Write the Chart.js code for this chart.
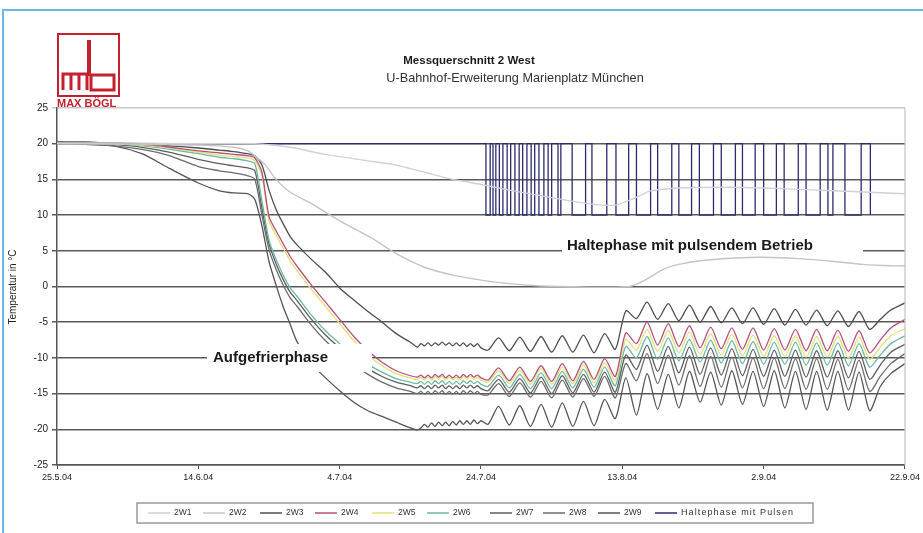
<!DOCTYPE html>
<html><head><meta charset="utf-8">
<script src="https://cdn.jsdelivr.net/npm/chart.js@4/dist/chart.umd.min.js"></script>
<style>html,body{margin:0;padding:0;background:#fff;}#wrap{width:923px;height:533px;position:relative;}</style>
</head><body><div id="wrap"><canvas id="c" width="923" height="533"></canvas></div>
<script>
// ---------- texts ----------
const chartTitle = 'Messquerschnitt 2 West';
const chartSubtitle = 'U-Bahnhof-Erweiterung Marienplatz München';
const yAxisTitle = 'Temperatur in °C';
const labelFreeze = 'Aufgefrierphase';
const labelHold = 'Haltephase mit pulsendem Betrieb';
const logoText = 'MAX BÖGL';
const seriesNames = ['2W1','2W2','2W3','2W4','2W5','2W6','2W7','2W8','2W9','Haltephase mit Pulsen'];

// ---------- axes ----------
const xTickDays = [0, 20, 40, 60, 80, 100, 120];
const xTickLabels = ['25.5.04','14.6.04','4.7.04','24.7.04','13.8.04','2.9.04','22.9.04'];
const yMin = -25, yMax = 25, yStep = 5;

// ---------- measured series (days since 25.5.04) ----------
const days = [0,4,8,12,16,20,23,25,27,28,29,30,31,32,33,34,36,38,40,42,44,46,48,50,
  51,51.5,52,52.5,53,53.5,54,54.5,55,55.5,56,56.5,57,57.5,58,58.5,59,59.5,60,
  61,62.5,64,65.5,67,68.5,70,71.5,73,74.5,76,77.5,79,80.5,82,83.5,85,86.5,88,89.5,91,92.5,94,95.5,97,98.5,100,101.5,103,104.5,106,107.5,109,110.5,112,113.5,115,116.5,118,120];

const w3 = [20.2,20.2,20.1,20.0,19.7,19.4,19.1,18.9,18.6,18.3,17.0,13.5,10.8,8.8,7.0,5.8,3.8,2.0,-0.2,-1.9,-3.5,-5.0,-6.6,-7.8,
  -8.5,-8.0,-8.3,-7.9,-8.3,-7.9,-8.2,-7.8,-8.2,-7.9,-8.3,-7.9,-8.3,-7.9,-8.4,-8.0,-8.4,-8.0,-8.6,
  -8.9,-7.2,-9.0,-7.1,-9.1,-7.0,-9.2,-6.9,-9.2,-6.8,-9.3,-6.6,-8.8,-3.4,-4.5,-2.2,-4.6,-2.4,-4.8,-2.6,-5.0,-2.8,-5.1,-3.0,-5.2,-3.0,-5.3,-3.1,-5.4,-3.2,-5.4,-3.3,-5.5,-3.4,-5.6,-3.5,-6.0,-4.6,-3.3,-2.3];
const w4 = [20.2,20.2,20.1,19.9,19.5,19.0,18.7,18.5,18.3,18.0,16.0,9.8,7.8,6.0,4.2,2.8,0.2,-2.2,-4.6,-7.0,-9.0,-10.6,-11.8,-12.5,
  -12.7,-12.4,-12.8,-12.4,-12.8,-12.3,-12.7,-12.3,-12.8,-12.4,-12.8,-12.4,-12.8,-12.3,-12.7,-12.3,-12.7,-12.4,-12.8,
  -13.1,-11.4,-13.2,-11.3,-13.3,-11.1,-13.3,-10.8,-13.2,-10.5,-13.0,-10.1,-12.6,-6.5,-8.0,-5.0,-8.2,-5.2,-8.4,-5.5,-8.6,-5.7,-8.7,-5.8,-8.8,-5.8,-8.9,-5.9,-8.9,-6.0,-9.0,-6.0,-9.0,-6.1,-9.1,-6.2,-9.3,-7.5,-5.8,-4.6];
const w5 = [20.2,20.2,20.0,19.8,19.4,18.8,18.4,18.2,18.0,17.6,15.5,9.2,7.2,5.4,3.6,2.2,-0.4,-2.8,-5.2,-7.6,-9.6,-11.1,-12.2,-12.8,
  -13.0,-12.7,-13.1,-12.7,-13.1,-12.6,-13.0,-12.6,-13.1,-12.7,-13.1,-12.7,-13.1,-12.6,-13.0,-12.6,-13.0,-12.7,-13.1,
  -13.4,-11.8,-13.6,-11.7,-13.7,-11.5,-13.7,-11.3,-13.6,-11.0,-13.5,-10.7,-13.2,-7.4,-8.9,-6.0,-9.1,-6.2,-9.3,-6.4,-9.5,-6.6,-9.6,-6.7,-9.7,-6.8,-9.8,-6.9,-9.8,-6.9,-9.9,-7.0,-9.9,-7.0,-10.0,-7.1,-10.2,-8.5,-6.9,-5.9];
const w6 = [20.2,20.1,20.0,19.7,19.2,18.6,18.1,17.9,17.6,17.2,12.0,6.5,3.8,1.6,-0.2,-1.4,-4.0,-6.2,-8.0,-9.6,-10.9,-12.0,-12.9,-13.4,
  -13.6,-13.3,-13.7,-13.3,-13.7,-13.2,-13.6,-13.2,-13.7,-13.3,-13.7,-13.3,-13.7,-13.2,-13.6,-13.2,-13.6,-13.3,-13.7,
  -14.0,-12.4,-14.2,-12.3,-14.3,-12.1,-14.3,-11.9,-14.2,-11.6,-14.1,-11.3,-13.9,-8.4,-10.0,-7.0,-10.2,-7.2,-10.4,-7.4,-10.6,-7.5,-10.7,-7.6,-10.8,-7.7,-10.9,-7.8,-10.9,-7.8,-11.0,-7.9,-11.0,-7.9,-11.1,-8.0,-11.3,-9.6,-8.0,-6.9];
const w7 = [20.2,20.1,19.9,19.5,18.8,17.8,17.2,16.9,16.6,16.2,11.0,6.0,3.2,1.0,-0.8,-2.0,-4.6,-6.8,-8.6,-10.2,-11.5,-12.6,-13.4,-13.9,
  -14.2,-13.9,-14.3,-13.9,-14.3,-13.8,-14.2,-13.8,-14.3,-13.9,-14.3,-13.9,-14.3,-13.8,-14.2,-13.8,-14.2,-13.9,-14.3,
  -14.6,-13.0,-14.8,-12.9,-14.9,-12.7,-15.0,-12.5,-14.9,-12.3,-14.8,-12.0,-14.8,-9.6,-11.6,-8.2,-11.9,-8.4,-12.1,-8.5,-12.3,-8.6,-12.4,-8.7,-12.5,-8.8,-12.6,-8.9,-12.6,-8.9,-12.7,-9.0,-12.7,-9.0,-12.8,-9.1,-13.0,-11.0,-9.2,-8.1];
const w8 = [20.2,20.0,19.7,19.2,18.3,16.8,16.2,15.9,15.5,15.0,10.0,5.2,2.4,0.2,-1.6,-2.8,-5.4,-7.6,-9.4,-11.0,-12.3,-13.4,-14.2,-14.7,
  -15.0,-14.7,-15.1,-14.7,-15.1,-14.6,-15.0,-14.6,-15.1,-14.7,-15.1,-14.7,-15.1,-14.6,-15.0,-14.6,-15.0,-14.7,-15.1,
  -15.2,-13.6,-15.4,-13.5,-15.5,-13.3,-15.6,-13.1,-15.5,-12.9,-15.4,-12.6,-15.6,-10.8,-13.2,-9.4,-13.6,-9.6,-13.8,-9.7,-14.0,-9.8,-14.1,-9.9,-14.2,-10.0,-14.3,-10.0,-14.3,-10.1,-14.4,-10.1,-14.4,-10.2,-14.5,-10.3,-14.7,-12.6,-10.8,-9.4];
const w9 = [20.2,19.9,19.7,18.6,16.5,14.5,13.4,13.1,13.0,12.2,8.5,3.5,0.2,-2.8,-5.3,-7.8,-10.8,-12.8,-14.6,-16.2,-17.4,-18.2,-19.0,-19.8,
  -20.1,-19.8,-19.3,-19.7,-19.1,-19.6,-19.0,-19.5,-19.0,-19.5,-18.9,-19.4,-18.8,-19.3,-18.8,-19.3,-18.7,-19.2,-18.8,
  -19.3,-16.8,-19.4,-16.7,-19.6,-16.5,-19.7,-16.3,-19.6,-16.1,-19.5,-15.8,-18.5,-12.8,-18.0,-12.2,-17.2,-12.3,-17.0,-11.9,-16.2,-12.0,-16.6,-11.8,-16.5,-11.9,-16.8,-11.8,-17.0,-11.9,-17.2,-11.9,-17.3,-11.9,-17.3,-12.0,-17.4,-14.0,-12.2,-10.8];

const w1Days = [0,10,20,28,33,38,44,48,52,56,60,64,68,72,76,79,82,84,88,95,100,105,110,115,120];
const w1 = [20.1,20.1,20.0,20.0,19.5,18.5,17.6,17.0,16.0,15.0,14.3,13.5,12.8,12.1,11.5,11.4,12.5,13.4,13.8,13.9,13.8,13.6,13.4,13.2,13.0];
const w2Days = [0,10,20,25,27,28,29.5,31,33,36,40,44.5,48,52,56,60,64,68,72,76,81,83,86,88,91,96,100,105,110,114,118,120];
const w2 = [20.0,19.9,19.8,19.5,19.0,18.3,17.0,15.0,13.2,11.6,9.2,6.8,4.6,2.7,1.6,0.9,0.4,0.1,0.0,-0.1,0.0,0.8,2.5,3.1,3.6,4.0,4.1,3.9,3.5,3.1,2.9,2.9];

// pulsed holding phase: day of each switch between the two levels
const pulseLevels = [20, 10];
const pulseEdgeDays = [60.7,61.3,61.7,62.1,62.6,63.1,63.7,64.2,64.8,65.4,65.9,66.5,67.1,67.6,68.2,68.9,69.5,70.0,70.9,71.3,72.9,74.8,75.7,77.8,79.1,
  80.9,82.0,84.0,85.0,87.0,88.0,89.8,90.9,92.9,94.0,96.0,97.0,98.8,100.0,101.8,102.9,104.9,106.0,108.0,109.1,109.8,111.5,113.8,115.1];

// ---------- build datasets ----------
const pts = (xs, ys) => xs.map((x, i) => ({x, y: ys[i]}));
const haltePts = [{x: 0, y: pulseLevels[0]}];
let lvl = 0;
pulseEdgeDays.forEach(d => { haltePts.push({x: d, y: pulseLevels[lvl]}); lvl = 1 - lvl; haltePts.push({x: d, y: pulseLevels[lvl]}); });

const colors = ['#d2cfd8','#c4c4c4','#4e4e4e','#b4507e','#e2e07a','#6eb8a6','#5e5e5e','#6c6c6c','#555555','#2c2c6e'];
const widths = [1.4,1.4,1.3,1.3,1.3,1.3,1.3,1.3,1.3,1.3];
const seriesData = [pts(w1Days,w1), pts(w2Days,w2), pts(days,w3), pts(days,w4), pts(days,w5), pts(days,w6), pts(days,w7), pts(days,w8), pts(days,w9), haltePts];

const datasets = seriesNames.map((name, i) => ({
  label: name, data: seriesData[i], borderColor: colors[i], backgroundColor: colors[i],
  borderWidth: widths[i], pointRadius: 0, fill: false, tension: i === 9 ? 0 : 0.25
}));

const FONT = '"Liberation Sans", Arial, sans-serif';

const decor = {
  id: 'decor',
  beforeDraw(chart) {
    const c = chart.ctx; c.save(); c.fillStyle = '#fff'; c.fillRect(0, 0, chart.width, chart.height); c.restore();
  },
  afterDatasetsDraw(chart) {
    const c = chart.ctx, a = chart.chartArea;
    c.save();
    c.strokeStyle = '#c4c4c4'; c.lineWidth = 1.2;
    c.beginPath(); c.moveTo(a.right, a.top); c.lineTo(a.right, a.bottom); c.stroke();
    c.fillStyle = '#fff';
    c.fillRect(207, 344, 165, 28);
    c.fillRect(562, 236, 301, 20);
    c.fillStyle = '#1a1a1a';
    c.font = 'bold 15px ' + FONT; c.textBaseline = 'middle'; c.textAlign = 'left';
    c.fillText(labelFreeze, 213, 358);
    c.fillText(labelHold, 567, 246);
    c.restore();
  },
  afterDraw(chart) {
    const c = chart.ctx;
    c.save();
    c.strokeStyle = '#6cb8e6'; c.lineWidth = 2;
    c.beginPath(); c.moveTo(3, 533); c.lineTo(3, 10); c.lineTo(923, 10); c.stroke();
    c.fillStyle = '#1a1a1a'; c.textAlign = 'center'; c.textBaseline = 'middle';
    c.font = 'bold 11.5px ' + FONT; c.fillText(chartTitle, 469, 61);
    c.fillStyle = '#333'; c.font = '12.7px ' + FONT; c.fillText(chartSubtitle, 515, 78);
    c.save(); c.translate(13, 287); c.rotate(-Math.PI / 2);
    c.font = '10px ' + FONT; c.fillStyle = '#222'; c.fillText(yAxisTitle, 0, 0); c.restore();
    const red = '#c4202e';
    c.strokeStyle = red; c.fillStyle = red; c.lineWidth = 2;
    c.strokeRect(58, 34, 61, 62);
    c.fillRect(87, 40, 4, 36);
    c.lineWidth = 3;
    c.beginPath(); c.moveTo(63, 90); c.lineTo(63, 74); c.lineTo(87, 74); c.lineTo(87, 90);
    c.moveTo(71, 90); c.lineTo(71, 74); c.moveTo(79, 90); c.lineTo(79, 74); c.stroke();
    c.strokeRect(91, 75, 23, 15);
    c.font = 'bold 11px ' + FONT; c.textAlign = 'left'; c.fillText(logoText, 57, 104);
    c.strokeStyle = '#9a9a9a'; c.lineWidth = 1.5;
    c.strokeRect(137, 503, 676, 20);
    const lx = [148, 203, 260, 315, 372, 427, 490, 543, 598, 655];
    c.textBaseline = 'middle';
    seriesNames.forEach((n, i) => {
      c.strokeStyle = colors[i]; c.lineWidth = 1.5;
      c.beginPath(); c.moveTo(lx[i], 513); c.lineTo(lx[i] + 22, 513); c.stroke();
      c.fillStyle = '#333';
      c.font = (i === 9 ? '9px ' : '8.5px ') + FONT;
      c.letterSpacing = i === 9 ? '1.1px' : '0px';
      c.fillText(n, lx[i] + 26, 513);
    });
    c.restore();
  }
};

new Chart(document.getElementById('c'), {
  type: 'line',
  data: { datasets },
  options: {
    responsive: false, animation: false, devicePixelRatio: 1,
    layout: { padding: { left: 0, right: 16, top: 108, bottom: 48 } },
    plugins: { legend: { display: false }, title: { display: false }, tooltip: { enabled: false } },
    scales: {
      x: {
        type: 'linear', min: 0, max: 120,
        afterBuildTicks: s => { s.ticks = xTickDays.map(v => ({ value: v })); },
        ticks: { callback: v => xTickLabels[xTickDays.indexOf(v)], font: { size: 9, family: FONT }, color: '#222', maxRotation: 0, autoSkip: false, padding: 3 },
        grid: { drawOnChartArea: false, color: '#555', tickLength: 4, lineWidth: 1 },
        border: { color: '#555', width: 1.5 },
        afterFit: s => { s.height = 20; }
      },
      y: {
        min: yMin, max: yMax,
        ticks: { stepSize: yStep, font: { size: 10, family: FONT }, color: '#222', padding: 4 },
        grid: { color: ctx => ctx.tick && ctx.tick.value === yMax ? '#c8c8c8' : '#5a5a5a', lineWidth: 1.5, tickLength: 5 },
        border: { color: '#555', width: 1.5 },
        afterFit: s => { s.width = 57; }
      }
    }
  },
  plugins: [decor]
});
</script>
</body></html>
